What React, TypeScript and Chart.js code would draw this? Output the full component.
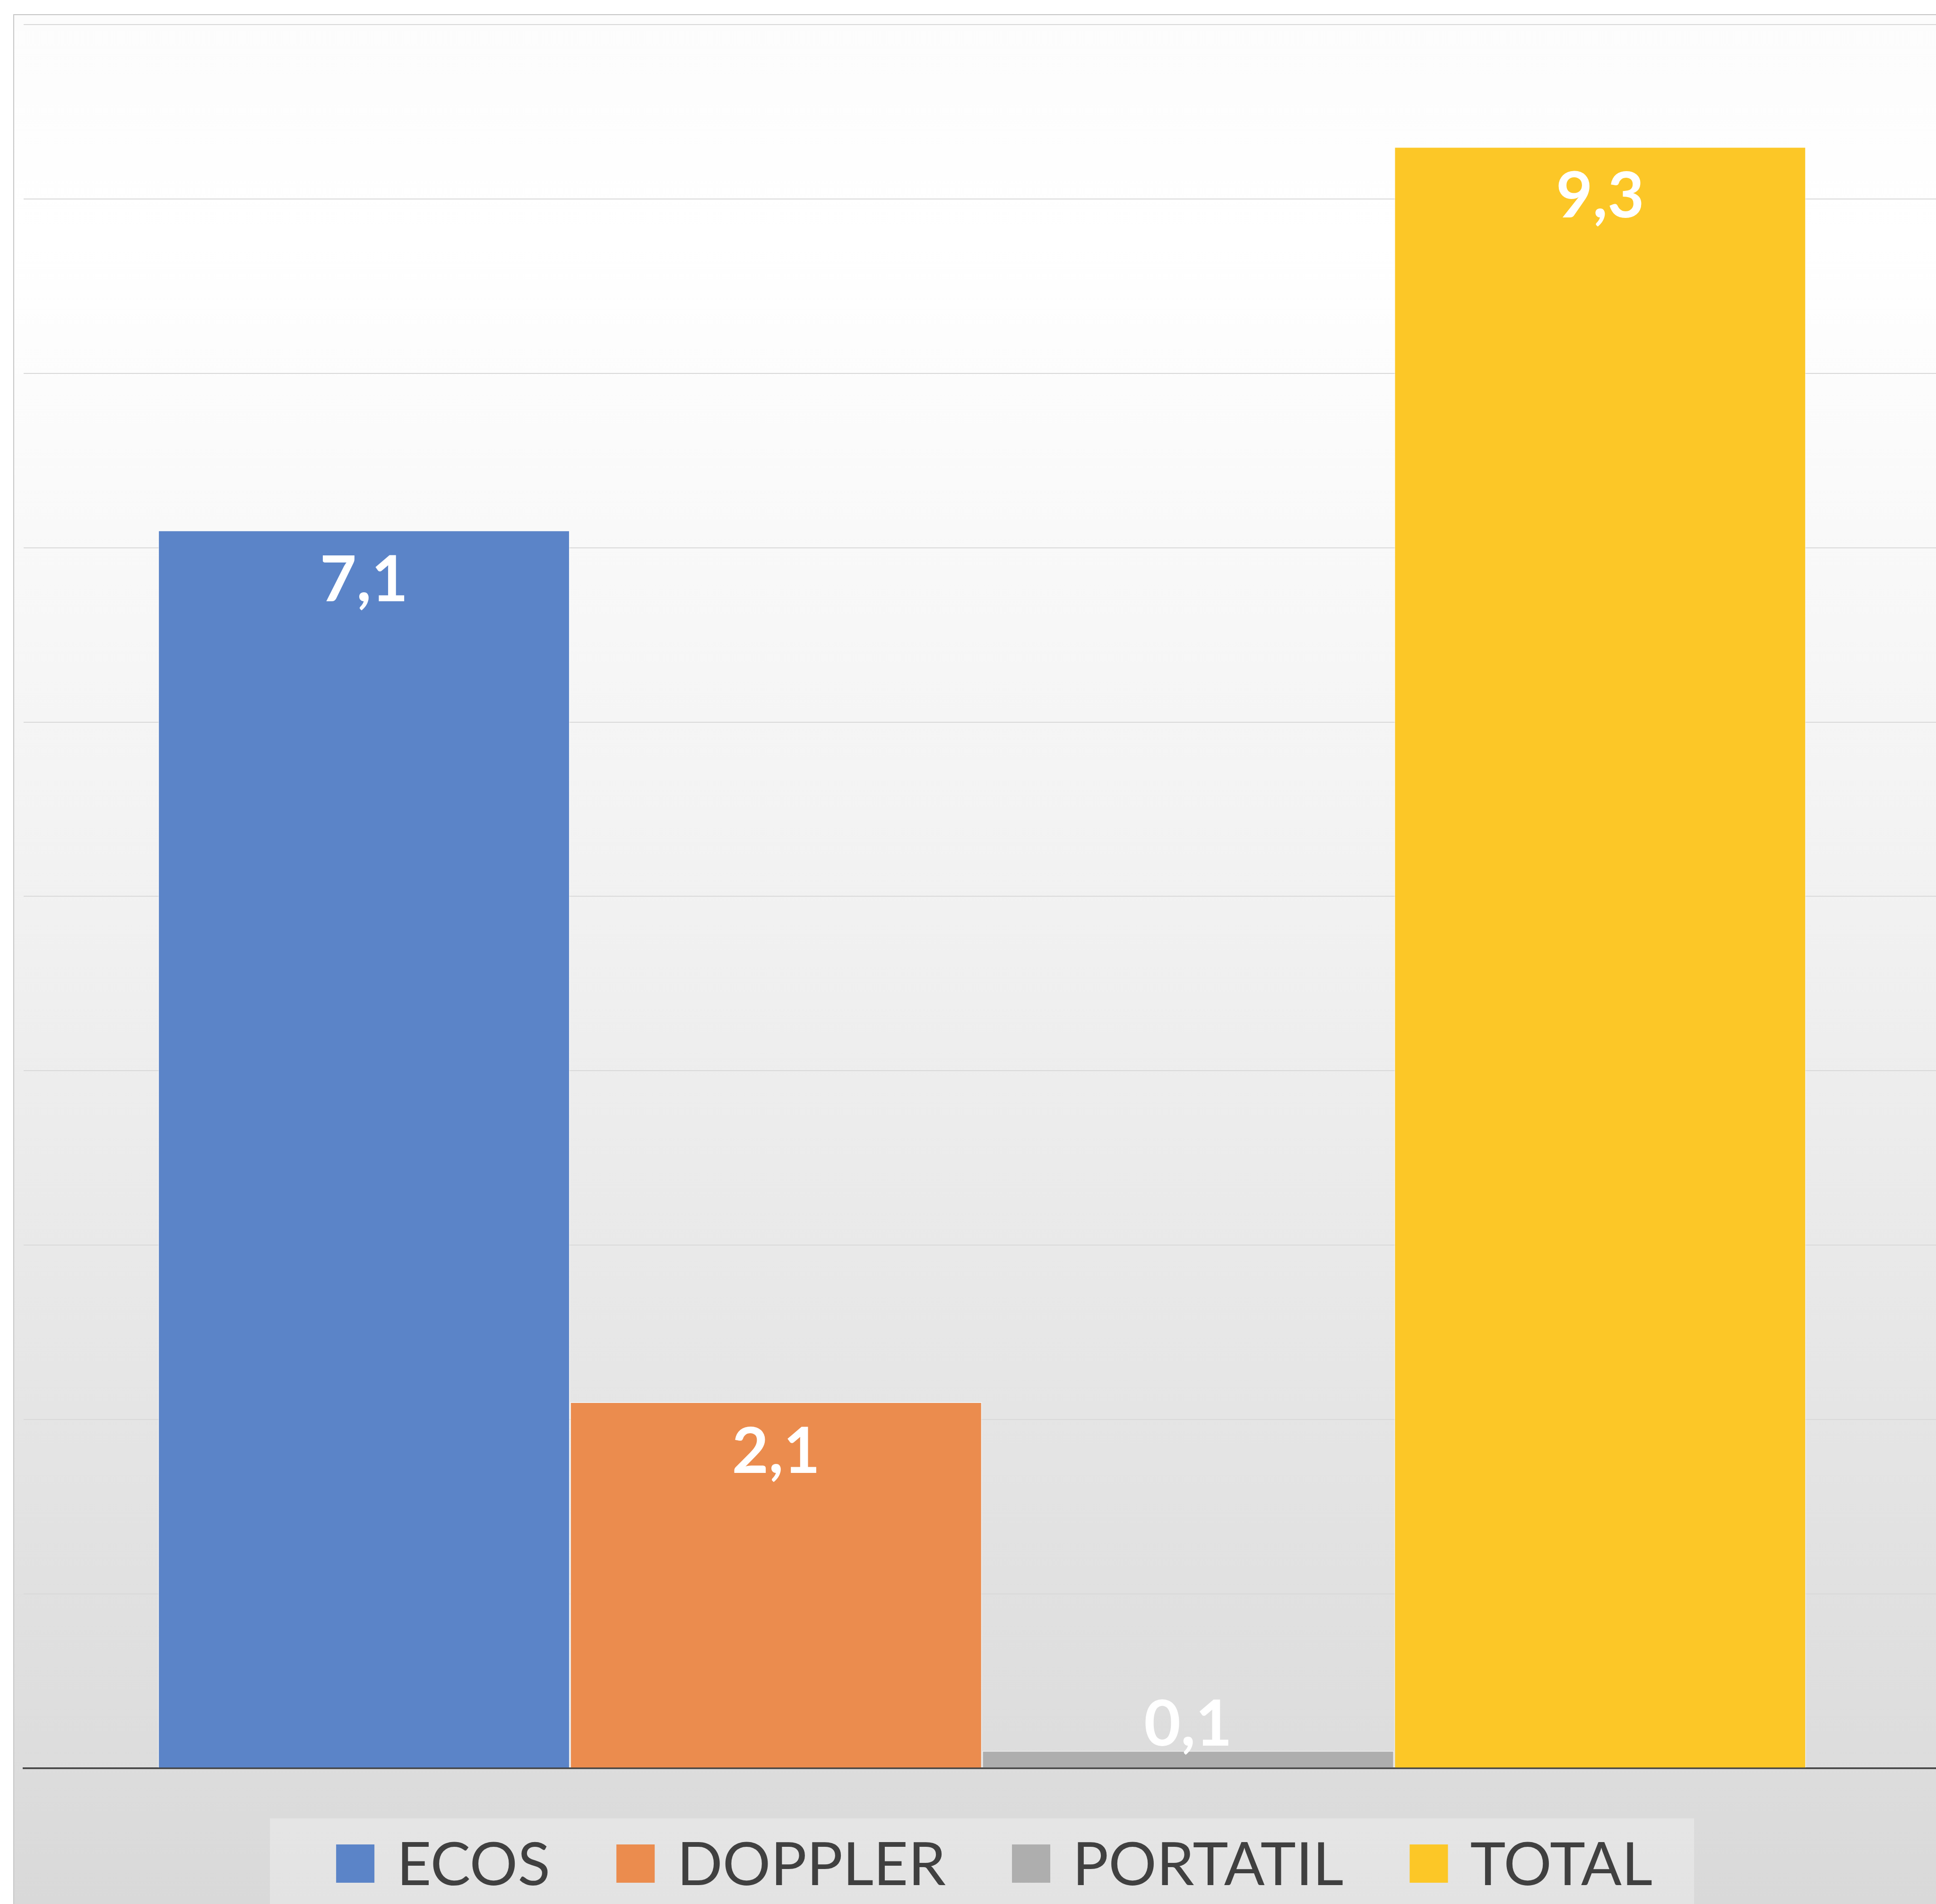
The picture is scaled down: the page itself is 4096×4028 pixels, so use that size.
import React, { useEffect, useRef } from "react";
import { Chart, registerables } from "chart.js";

Chart.register(...registerables);

const categories = [""];
const seriesNames = ["ECOS", "DOPPLER", "PORTATIL", "TOTAL"];
const seriesValues = [7.1, 2.1, 0.1, 9.3];
const seriesColors = ["#5B84C8", "#EB8C4E", "#AEAEAE", "#FCC727"];
const yMin = 0;
const yMax = 10;
const yStep = 1;

const CANVAS_W = 4140;
const CANVAS_H = 4060;
const FONT = "Lato, 'Open Sans', 'DejaVu Sans', sans-serif";

const fmt = (v: number) => v.toFixed(1).replace(".", ",");

const backgroundPlugin = {
  id: "bgPlugin",
  beforeDraw(chart: any) {
    const ctx = chart.ctx;
    ctx.save();
    ctx.fillStyle = "#ffffff";
    ctx.fillRect(0, 0, chart.width, chart.height);
    const x0 = 29, y0 = 31, x1 = chart.width - 14, y1 = chart.height - 2;
    const g = ctx.createLinearGradient(0, y0, 0, 4028);
    g.addColorStop(0, "#fcfcfc");
    g.addColorStop(0.12, "#ffffff");
    g.addColorStop(0.5, "#f0f0f0");
    g.addColorStop(1, "#d9d9d9");
    ctx.fillStyle = g;
    ctx.fillRect(x0, y0, x1 - x0, y1 - y0);
    ctx.strokeStyle = "#c6c6c6";
    ctx.lineWidth = 2;
    ctx.strokeRect(x0, y0, x1 - x0, y1 - y0);
    ctx.restore();
  },
};

const labelPlugin = {
  id: "labelPlugin",
  afterDatasetsDraw(chart: any) {
    const ctx = chart.ctx;
    ctx.save();
    ctx.font = `bold 134px ${FONT}`;
    ctx.fillStyle = "#ffffff";
    ctx.textAlign = "center";
    ctx.textBaseline = "alphabetic";
    chart.data.datasets.forEach((ds: any, i: number) => {
      const meta = chart.getDatasetMeta(i);
      meta.data.forEach((bar: any, j: number) => {
        const v = ds.data[j];
        const top = bar.y;
        const h = bar.base - bar.y;
        const y = h > 170 ? top + 150 : top - 11;
        ctx.fillText(fmt(v), bar.x, y);
      });
    });
    ctx.restore();
  },
};

const legendPlugin = {
  id: "legendPlugin",
  afterDraw(chart: any) {
    const ctx = chart.ctx;
    const area = chart.chartArea;
    const cx = (area.left + area.right) / 2;
    ctx.save();
    ctx.font = `127px ${FONT}`;
    const marker = 81;
    const gapText = 47;
    const gapItem = 140;
    const widths = seriesNames.map((n) => ctx.measureText(n).width);
    const total =
      widths.reduce((a, b) => a + b, 0) +
      seriesNames.length * (marker + gapText) +
      (seriesNames.length - 1) * gapItem;
    const boxW = total + 228;
    const boxL = cx - boxW / 2;
    const boxTop = 3847;
    ctx.fillStyle = "rgba(255,255,255,0.28)";
    ctx.fillRect(boxL, boxTop, boxW, chart.height - boxTop);
    let x = boxL + 140;
    const markerTop = 3902;
    const baseline = 3988;
    seriesNames.forEach((n, i) => {
      ctx.fillStyle = seriesColors[i];
      ctx.fillRect(x, markerTop, marker, marker);
      x += marker + gapText;
      ctx.fillStyle = "#404040";
      ctx.textAlign = "left";
      ctx.textBaseline = "alphabetic";
      ctx.fillText(n, x, baseline);
      x += widths[i] + gapItem;
    });
    ctx.restore();
  },
};

export default function App() {
  const ref = useRef<HTMLCanvasElement | null>(null);
  useEffect(() => {
    document.body.style.margin = "0";
    document.body.style.overflow = "hidden";
    const canvas = ref.current;
    if (!canvas) return;
    const chart = new Chart(canvas, {
      type: "bar",
      data: {
        labels: categories,
        datasets: seriesNames.map((name, i) => ({
          label: name,
          data: [seriesValues[i]],
          backgroundColor: seriesColors[i],
          borderColor: "rgba(255,255,255,0.45)",
          borderWidth: 2,
          borderSkipped: "bottom",
          categoryPercentage: 0.8597,
          barPercentage: 1,
        })),
      },
      options: {
        animation: false,
        responsive: false,
        devicePixelRatio: 1,
        layout: {
          padding: { left: 49.6, right: CANVAS_W - 4105.8, top: 52.2, bottom: CANVAS_H - 3740.6 },
        },
        plugins: {
          legend: { display: false },
          tooltip: { enabled: false },
          title: { display: false },
        },
        scales: {
          x: {
            ticks: { display: false },
            grid: { display: false, drawTicks: false },
            border: { display: true, color: "#404040", width: 3.5 },
          },
          y: {
            min: yMin,
            max: yMax,
            ticks: { display: false, stepSize: yStep },
            grid: {
              drawTicks: false,
              color: (c: any) => (c.tick && c.tick.value === 0 ? "rgba(0,0,0,0)" : "#d9d9d9"),
              lineWidth: 2,
            },
            border: { display: false },
          },
        },
      },
      plugins: [backgroundPlugin, labelPlugin, legendPlugin],
    });
    return () => chart.destroy();
  }, []);
  return (
    <div style={{ position: "fixed", left: 0, top: 0, width: CANVAS_W, height: CANVAS_H }}>
      <canvas ref={ref} width={CANVAS_W} height={CANVAS_H} style={{ display: "block" }} />
    </div>
  );
}
